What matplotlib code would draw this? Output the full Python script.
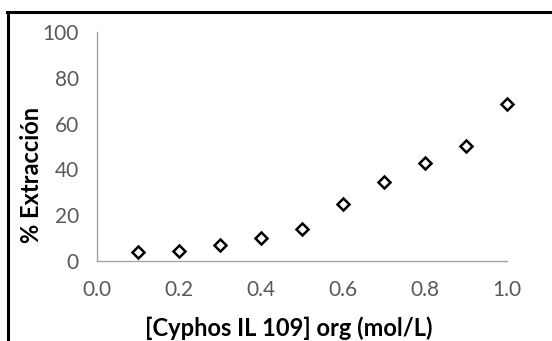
import matplotlib
matplotlib.use("Agg")
import matplotlib.pyplot as plt
from matplotlib.lines import Line2D

# data
conc = [0.1, 0.2, 0.3, 0.4, 0.5, 0.6, 0.7, 0.8, 0.9, 1.0]
extraccion = [4.1, 4.5, 7.0, 9.9, 14.0, 25.0, 34.6, 42.9, 50.3, 68.4]
xticks = [0.0, 0.2, 0.4, 0.6, 0.8, 1.0]
yticks = [0, 20, 40, 60, 80, 100]

plt.rcParams['font.family'] = ['Lato', 'DejaVu Sans']

fig = plt.figure(figsize=(5.52, 3.41), dpi=100)
ax = fig.add_axes([0.1757, 0.2346, 0.9185 - 0.1757, 0.9062 - 0.2346])

ax.plot(conc, extraccion, linestyle='none', marker='D', markersize=6.2,
        markerfacecolor='white', markeredgecolor='black', markeredgewidth=1.8,
        clip_on=False)

ax.set_xlim(0, 1.0)
ax.set_ylim(0, 100)
ax.set_xticks(xticks)
ax.set_xticklabels(['%.1f' % v for v in xticks])
ax.set_yticks(yticks)
ax.tick_params(length=0, labelsize=15, colors='#595959')
ax.tick_params(axis='y', pad=13)
ax.tick_params(axis='x', pad=14)

for s in ['top', 'right']:
    ax.spines[s].set_visible(False)
for s in ['left', 'bottom']:
    ax.spines[s].set_color('#A6A6A6')
    ax.spines[s].set_linewidth(1.0)

ax.set_xlabel('[Cyphos IL 109] org (mol/L)', fontsize=17, fontweight='bold', va='center')
ax.set_ylabel('% Extracción', fontsize=17, fontweight='bold', va='center')
ax.xaxis.set_label_coords(0.468, -0.295)
ax.yaxis.set_label_coords(-0.159, 0.3755)

# partial black frame (left and top edges only)
fig.add_artist(Line2D([7.5 / 552, 7.5 / 552], [0, 1 - 11.5 / 341], color='black', linewidth=2.2,
                      transform=fig.transFigure))
fig.add_artist(Line2D([6.5 / 552, 1], [1 - 11.5 / 341, 1 - 11.5 / 341], color='black', linewidth=2.2,
                      transform=fig.transFigure))

fig.savefig('out.png', dpi=100)
